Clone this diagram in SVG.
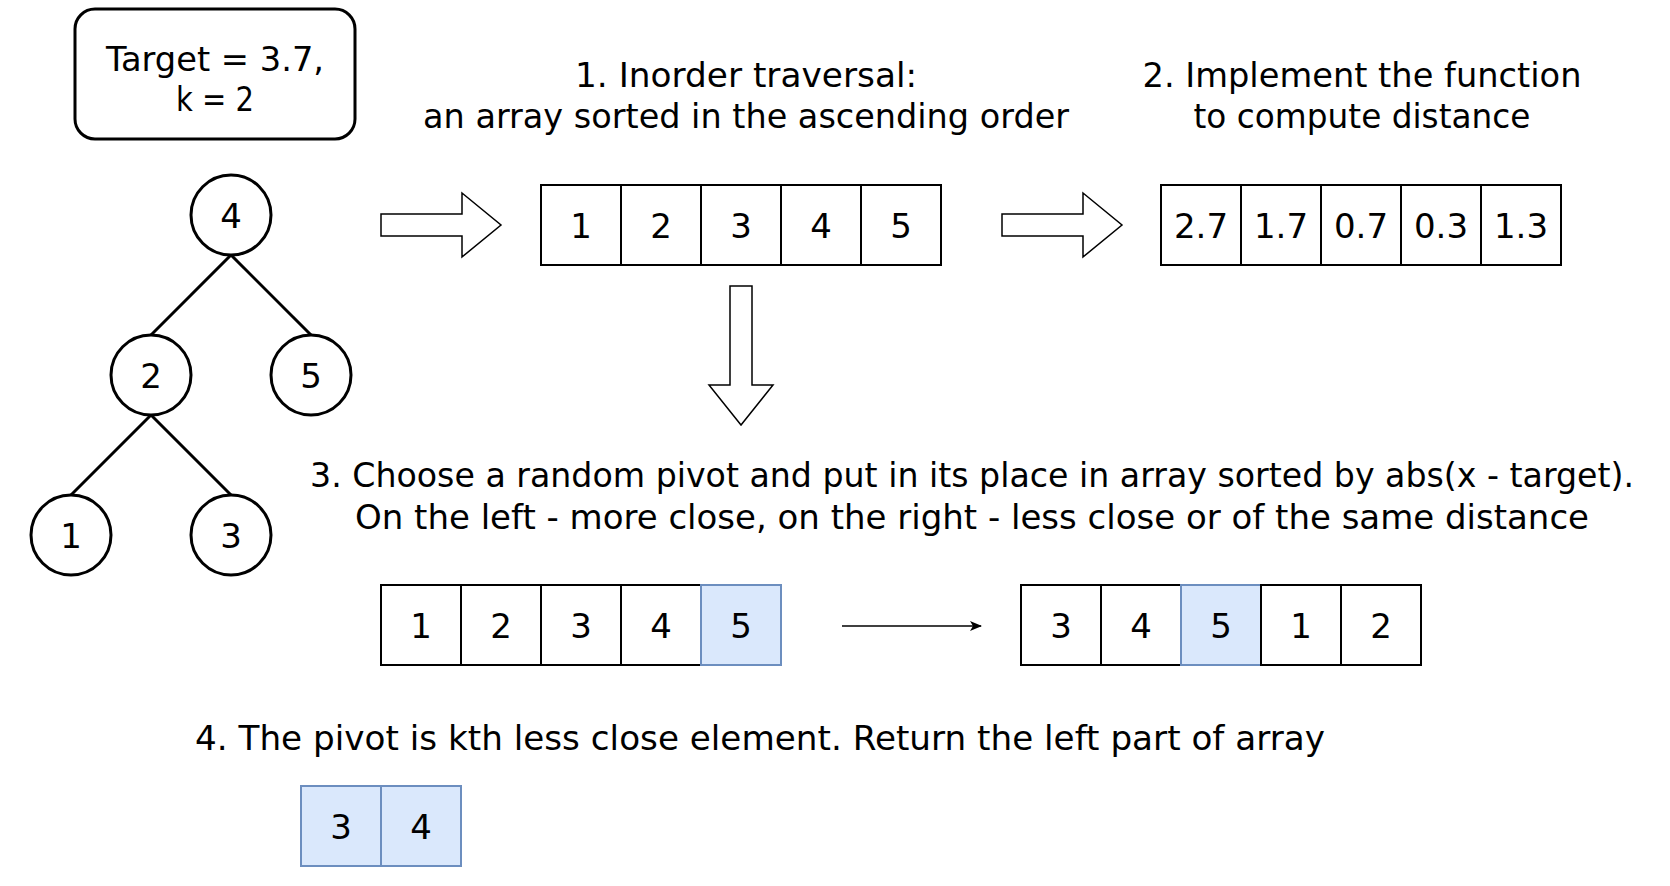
<svg xmlns="http://www.w3.org/2000/svg" width="1670" height="886" viewBox="0 0 1670 886">
<style>
text{font-family:"Comic Sans MS","DejaVu Sans","Liberation Sans",sans-serif;font-size:34px;fill:#000;text-anchor:middle}
.cell{fill:#fff;stroke:#000;stroke-width:2}
.blue{fill:#dae8fc;stroke:#6c8ebf;stroke-width:2}
.node{fill:#fff;stroke:#000;stroke-width:3}
.edge{stroke:#000;stroke-width:3;fill:none}
.barrow{fill:#fff;stroke:#000;stroke-width:1.5;stroke-linejoin:miter}
.conn{stroke:#000;stroke-width:1.5;fill:none}
</style>
<defs>
<marker id="ah" markerWidth="12" markerHeight="10" refX="11" refY="5" orient="auto" markerUnits="userSpaceOnUse">
<path d="M0,0 L12,5 L0,10 L3,5 Z" fill="#000"/>
</marker>
</defs>
<rect width="1670" height="886" fill="#fff"/>

<g id="params">
<rect x="75" y="9" width="280" height="130" rx="20" ry="20" fill="#fff" stroke="#000" stroke-width="3"/>
<text x="215" y="71" textLength="218" lengthAdjust="spacingAndGlyphs">Target = 3.7,</text>
<text x="215" y="111" textLength="78" lengthAdjust="spacingAndGlyphs">k = 2</text>
</g>

<g id="tree-edges">
<line class="edge" x1="231" y1="255" x2="151" y2="335"/>
<line class="edge" x1="231" y1="255" x2="311" y2="335"/>
<line class="edge" x1="151" y1="415" x2="71" y2="495"/>
<line class="edge" x1="151" y1="415" x2="231" y2="495"/>
</g>
<g id="node-4"><circle class="node" cx="231" cy="215" r="40"/><text x="231" y="228">4</text></g>
<g id="node-2"><circle class="node" cx="151" cy="375" r="40"/><text x="151" y="388">2</text></g>
<g id="node-5"><circle class="node" cx="311" cy="375" r="40"/><text x="311" y="388">5</text></g>
<g id="node-1"><circle class="node" cx="71" cy="535" r="40"/><text x="71" y="548">1</text></g>
<g id="node-3"><circle class="node" cx="231" cy="535" r="40"/><text x="231" y="548">3</text></g>

<g id="title-1">
<text x="746" y="87" textLength="342" lengthAdjust="spacingAndGlyphs">1. Inorder traversal:</text>
<text x="746" y="128" textLength="646" lengthAdjust="spacingAndGlyphs">an array sorted in the ascending order</text>
</g>
<g id="title-2">
<text x="1362" y="87" textLength="439" lengthAdjust="spacingAndGlyphs">2. Implement the function</text>
<text x="1362" y="128" textLength="337" lengthAdjust="spacingAndGlyphs">to compute distance</text>
</g>

<g id="array-sorted">
<rect class="cell" x="541" y="185" width="80" height="80"/>
<rect class="cell" x="621" y="185" width="80" height="80"/>
<rect class="cell" x="701" y="185" width="80" height="80"/>
<rect class="cell" x="781" y="185" width="80" height="80"/>
<rect class="cell" x="861" y="185" width="80" height="80"/>
<text x="581" y="238">1</text><text x="661" y="238">2</text><text x="741" y="238">3</text><text x="821" y="238">4</text><text x="901" y="238">5</text>
</g>

<g id="array-distance">
<rect class="cell" x="1161" y="185" width="80" height="80"/>
<rect class="cell" x="1241" y="185" width="80" height="80"/>
<rect class="cell" x="1321" y="185" width="80" height="80"/>
<rect class="cell" x="1401" y="185" width="80" height="80"/>
<rect class="cell" x="1481" y="185" width="80" height="80"/>
<text x="1201" y="238">2.7</text><text x="1281" y="238">1.7</text><text x="1361" y="238">0.7</text><text x="1441" y="238">0.3</text><text x="1521" y="238">1.3</text>
</g>

<g id="title-3">
<text x="972" y="487" textLength="1324" lengthAdjust="spacingAndGlyphs">3. Choose a random pivot and put in its place in array sorted by abs(x - target).</text>
<text x="972" y="529" textLength="1234" lengthAdjust="spacingAndGlyphs">On the left - more close, on the right - less close or of the same distance</text>
</g>

<g id="array-before">
<rect class="cell" x="381" y="585" width="80" height="80"/>
<rect class="cell" x="461" y="585" width="80" height="80"/>
<rect class="cell" x="541" y="585" width="80" height="80"/>
<rect class="cell" x="621" y="585" width="80" height="80"/>
<rect class="blue" x="701" y="585" width="80" height="80"/>
<text x="421" y="638">1</text><text x="501" y="638">2</text><text x="581" y="638">3</text><text x="661" y="638">4</text><text x="741" y="638">5</text>
</g>

<g id="array-after">
<rect class="cell" x="1021" y="585" width="80" height="80"/>
<rect class="cell" x="1101" y="585" width="80" height="80"/>
<rect class="blue" x="1181" y="585" width="80" height="80"/>
<rect class="cell" x="1261" y="585" width="80" height="80"/>
<rect class="cell" x="1341" y="585" width="80" height="80"/>
<text x="1061" y="638">3</text><text x="1141" y="638">4</text><text x="1221" y="638">5</text><text x="1301" y="638">1</text><text x="1381" y="638">2</text>
</g>

<g id="title-4">
<text x="760" y="750" textLength="1130" lengthAdjust="spacingAndGlyphs">4. The pivot is kth less close element. Return the left part of array</text>
</g>

<g id="array-result">
<rect class="blue" x="301" y="786" width="80" height="80"/>
<rect class="blue" x="381" y="786" width="80" height="80"/>
<text x="341" y="839">3</text><text x="421" y="839">4</text>
</g>

<g id="connectors">
<polygon class="barrow" points="381,214 462,214 462,193 501,225 462,257 462,236 381,236"/>
<polygon class="barrow" points="1002,214 1083,214 1083,193 1122,225 1083,257 1083,236 1002,236"/>
<polygon class="barrow" points="730,286 752,286 752,385 773,385 741,425 709,385 730,385"/>
<line class="conn" x1="842" y1="626" x2="981" y2="626" marker-end="url(#ah)"/>
</g>
</svg>
